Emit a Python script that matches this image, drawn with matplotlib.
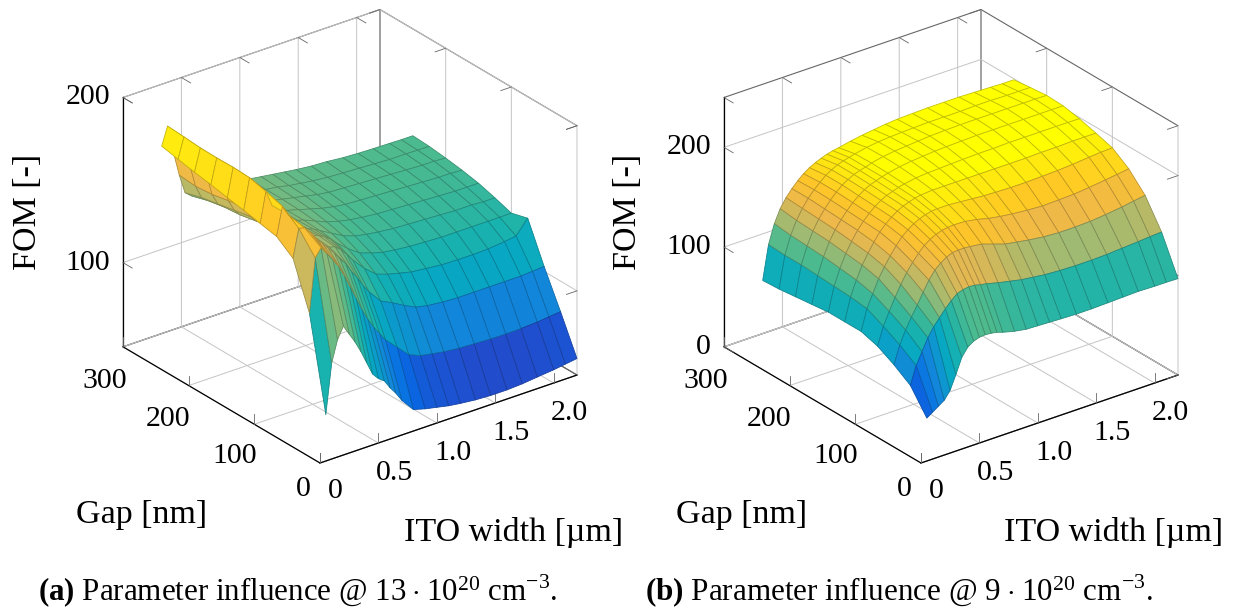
import numpy as np
import matplotlib
matplotlib.use('Agg')
import matplotlib.pyplot as plt
from matplotlib.colors import LinearSegmentedColormap
from mpl_toolkits.mplot3d import proj3d

plt.rcParams['font.family'] = ['Liberation Serif', 'DejaVu Serif']
plt.rcParams['mathtext.fontset'] = 'custom'
plt.rcParams['mathtext.rm'] = 'Liberation Serif'
plt.rcParams['mathtext.bf'] = 'Liberation Serif:bold'

W, H = 1239, 610

# ejes
ito_width = [0.05, 0.1, 0.15, 0.2, 0.25, 0.3, 0.35, 0.4, 0.45, 0.5, 0.55, 0.6, 0.65, 0.7,
             0.8, 0.9, 1.0, 1.1, 1.2, 1.33, 1.46, 1.6, 1.73, 1.86, 2.0, 2.1, 2.2]
gap = [0, 25, 50, 75, 100, 125, 150, 175, 200, 225, 250]

x_ticks = [0, 0.5, 1.0, 1.5, 2.0]
x_labels = ['0', '0.5', '1.0', '1.5', '2.0']
y_ticks = [0, 100, 200, 300]
y_labels = ['0', '100', '200', '300']
z_ticks_a = [100, 200]
z_ticks_b = [0, 100, 200]

# FOM, una fila por cada gap
fom_a = [
    [77, 107, 120, 127, 121, 115, 108, 100, 92, 88, 85.5, 80, 75.5, 70, 62, 60, 58.5, 57, 56, 55, 54.5, 54.5, 55, 56, 57, 58, 59],
    [132.7, 165, 170, 165, 160, 155, 148, 140, 132, 124, 117, 111, 106, 101, 94, 87, 84, 82.7, 81.5, 80.5, 80, 79.5, 79.4, 79.5, 80, 80.8, 81.5],
    [160, 177, 176, 172, 167, 163, 159, 155, 150, 146, 140, 135, 129, 124, 116, 112.5, 108.5, 105, 103.5, 102.5, 102, 102, 102, 102, 102, 102.5, 103],
    [167.4, 184.4, 178, 170, 165, 160, 156.5, 154, 152, 150, 149, 146, 142, 137.5, 130, 124, 121.5, 119.7, 118, 117, 116, 115.7, 115.7, 116, 117, 118, 126.4],
    [169.4, 187.6, 178, 168, 162, 158, 155, 153, 152, 151, 150, 148, 145.5, 142, 136, 131, 128.5, 126.5, 125.5, 124.5, 124, 123.5, 123.5, 123.5, 123.5, 123.5, 123.6],
    [171.5, 190, 178, 166, 160, 156, 153, 151, 150, 149, 148.5, 147, 145.5, 143.5, 139.5, 135.5, 133, 131.5, 130.5, 129.5, 129, 128.5, 128, 127.5, 127.5, 127, 127],
    [173.3, 190.5, 176, 164, 157, 153, 151, 149, 148.5, 147.5, 147, 146, 145, 144, 141, 138, 136, 134.5, 133.5, 132.5, 132, 131.5, 131, 130.5, 130, 130, 130],
    [175.3, 190.3, 175, 162, 155, 151, 149.5, 148, 147.5, 147, 146.5, 145.5, 145, 144, 142, 140, 138, 136.5, 135.5, 135, 134.5, 134, 133.5, 133, 132.5, 132.5, 132],
    [177, 190.5, 174, 160, 153, 150, 148, 147, 146.5, 146, 145.5, 145, 144.5, 144, 142.5, 141, 139.5, 138, 137, 136.5, 136, 135.5, 135, 134.5, 134, 134, 133.5],
    [179, 191.3, 173, 159, 151, 148, 146.5, 146, 145.5, 145, 145, 144.5, 144, 143.5, 142.5, 141.5, 140, 139, 138, 137, 136.5, 136, 135.5, 135, 135, 134.8, 134.7],
    [181, 192, 175, 160, 148, 145, 145, 144.5, 144, 144, 143.5, 143.5, 143, 143, 143, 142, 141, 140, 139, 138, 137.5, 136.5, 136, 135.7, 135.5, 135.3, 135.3],
]

fom_b = [
    [43, 47, 51, 55, 63, 77, 92, 100, 104, 106, 106.5, 106, 105, 103, 100, 98, 97.5, 97, 96.5, 96, 96, 96.5, 97, 97.5, 97, 97, 96.7],
    [66, 84, 96, 108, 117, 124, 131, 137, 142, 144, 145, 144.5, 143, 142, 139, 136.5, 134, 132.5, 131, 130, 129.5, 129.5, 130, 131, 132, 133, 133.7],
    [77, 95, 108, 119, 129, 140, 150, 158, 163, 167, 169.5, 170, 170, 169.5, 168, 164, 160, 158, 156, 154, 153, 153, 153.5, 155, 157, 159, 160.7],
    [86, 104, 117, 129, 140, 150, 158, 165, 171, 175, 178, 180, 181, 181.5, 181, 179, 176, 174, 172.5, 171, 170, 170.5, 171, 172.5, 174.5, 176, 177.7],
    [91, 112, 125, 138, 148, 157, 165, 172, 177, 181, 184, 186, 187.5, 188, 188, 187, 186, 185, 184.5, 184, 184, 184.5, 185, 186, 187.5, 188.5, 189],
    [91, 114, 129, 142, 152, 161, 169, 175, 180, 184, 187, 189, 191, 192, 193, 193, 193, 193, 193, 193, 193, 193, 193.5, 193.5, 194, 194, 194],
    [91, 115, 131, 144, 154, 163, 170, 176, 181, 185, 188, 190, 192, 193.5, 195.5, 196.5, 197, 197.5, 198, 198.5, 198.5, 199, 199, 199, 199, 199, 198.7],
    [89, 116, 133, 146, 156, 164, 171, 177, 182, 186, 189, 191, 193, 194.5, 197, 198.5, 199.5, 200.5, 201, 201.5, 202, 202, 202, 202, 202, 202, 202],
    [87, 117, 134, 147, 157, 165, 172, 178, 183, 186.5, 189.5, 191.5, 193, 195, 197.5, 199, 200, 201, 202, 202.5, 203, 203, 203, 203, 203, 203, 202.7],
    [85, 117, 135, 148, 158, 166, 172.5, 178, 183, 186.5, 189.5, 191.5, 193, 194.5, 197, 198.5, 199.5, 200, 200.5, 201, 201, 201, 201.5, 201.5, 201, 201, 201],
    [84, 118, 137, 150, 159, 166, 172, 177, 181, 184, 186.5, 188.5, 190, 191, 193.5, 195.5, 197, 198.5, 199.5, 200, 200.5, 200.5, 200.5, 200, 199.5, 199, 199],
]

# mapa de color tipo parula, tomado de las bandas de la figura
cmap_pos = [0.0, 0.12, 0.20, 0.30, 0.42, 0.52, 0.62, 0.74, 0.83, 0.91, 1.0]
cmap_rgb = [(0.18, 0.22, 0.70), (0.13, 0.30, 0.80), (0.02, 0.42, 0.90), (0.07, 0.53, 0.85),
            (0.03, 0.66, 0.76), (0.10, 0.70, 0.68), (0.30, 0.73, 0.56), (0.62, 0.73, 0.45),
            (0.93, 0.72, 0.30), (1.0, 0.78, 0.15), (1.0, 1.0, 0.0)]
# valor de FOM que corresponde a cada color en cada panel
levels_a = [50, 67, 78, 92, 110, 121, 135, 150, 165, 178, 190]
levels_b = [30, 50, 63, 78, 95, 110, 125, 141, 160, 177, 197]
cmap = LinearSegmentedColormap.from_list('fom', list(zip(cmap_pos, cmap_rgb)))

fig = plt.figure(figsize=(W / 100, H / 100), dpi=100)


def to_view(ax, x, y, z):
    X, Y, _ = proj3d.proj_transform(x, y, z, ax.get_proj())
    return X, Y


def to_screen(ax, x, y, z):
    return ax.transData.transform(to_view(ax, x, y, z))


def tick_label(ax, text, point, offset, ha='center'):
    # etiqueta a una distancia fija en pixeles de su marca
    ax.annotate(text, to_view(ax, *point), xycoords='data', xytext=offset,
                textcoords='offset pixels', fontsize=21.5, ha=ha, va='center',
                annotation_clip=False)


def make_panel(fom, zlim, zticks, levels, corner, x_px):
    ax = fig.add_subplot(projection='3d', proj_type='ortho', computed_zorder=False)
    ax.set_position([0, 0, 700 / W, 700 / H])
    ax.patch.set_alpha(0)
    ax.view_init(elev=26.7, azim=-127.3)
    ax.set_box_aspect((323, 325, 279))
    ax.set_xlim(0, 2.2, view_margin=0)
    ax.set_ylim(0, 300, view_margin=0)
    ax.set_zlim(zlim[0], zlim[1], view_margin=0)

    ax.set_xticks(x_ticks, [''] * len(x_ticks))
    ax.set_yticks(y_ticks, [''] * len(y_ticks))
    ax.set_zticks(zticks, [''] * len(zticks))

    for axis in (ax.xaxis, ax.yaxis, ax.zaxis):
        axis.pane.set_alpha(1)
        axis.pane.set_facecolor('none')
        axis.pane.set_edgecolor('#666666')
        axis.pane.set_linewidth(0.8)
        axis._axinfo['grid'].update(color='#c4c4c4', linewidth=0.7)
        axis._axinfo['tick'].update(inward_factor=0, outward_factor=0)
        axis.line.set_color('black')
        axis.line.set_linewidth(0.9)

    # marcas cortas de pgfplots, en los bordes de la caja
    dz = 0.04 * (zlim[1] - zlim[0])
    tick = dict(color='#666666', lw=0.6, zorder=1)
    for t in x_ticks:
        ax.plot([t, t], [0, 0], [zlim[0], zlim[0] + dz], **tick)
        ax.plot([t, t], [300, 300 - 14], [zlim[1], zlim[1]], **tick)
    for t in y_ticks:
        ax.plot([0, 0], [t, t], [zlim[0], zlim[0] + dz], **tick)
        ax.plot([2.2, 2.2 - 0.09], [t, t], [zlim[1], zlim[1]], **tick)
    for t in zticks:
        ax.plot([0, 0], [300, 300 - 14], [t, t], **tick)
        ax.plot([2.2, 2.2 - 0.09], [0, 0], [t, t], **tick)

    # etiquetas de las marcas
    for t, s in zip(x_ticks, x_labels):
        tick_label(ax, s, (t, 0, zlim[0]), (15, -28) if t == 0 else (16, -30))
    y_offsets = [(-17, -26), (-20, -32), (-21, -33), (-18, -34)]
    for t, s, off in zip(y_ticks, y_labels, y_offsets):
        tick_label(ax, s, (0, t, zlim[0]), off)
    for t in zticks:
        tick_label(ax, str(t), (0, 300, t), (-13, 0), ha='right')

    X, Y = np.meshgrid(ito_width, gap)
    Z = np.array(fom)
    mid = (Z[:-1, :-1] + Z[1:, :-1] + Z[:-1, 1:] + Z[1:, 1:]) / 4
    faces = cmap(np.interp(mid, levels, cmap_pos))
    surf = ax.plot_surface(X, Y, Z, rstride=1, cstride=1, facecolors=faces, shade=False,
                           linewidth=0.55, antialiased=True, zorder=3)
    edges = faces.reshape(-1, 4).copy()
    edges[:, :3] *= 0.75
    surf.set_edgecolor(edges)

    # ajustar el tamano y la posicion de los ejes al recuadro de la figura
    fig.canvas.draw()
    p0 = to_screen(ax, 0, 0, zlim[0])
    p1 = to_screen(ax, 2.2, 0, zlim[0])
    size = 700 * x_px / (p1[0] - p0[0])
    ax.set_position([0, 0, size / W, size / H])
    fig.canvas.draw()
    p0 = to_screen(ax, 0, 0, zlim[0])
    ax.set_position([(corner[0] - p0[0]) / W, (H - corner[1] - p0[1]) / H, size / W, size / H])
    return ax


make_panel(fom_a, (49, 200), z_ticks_a, levels_a, (320, 463), 257)
make_panel(fom_b, (0, 250), z_ticks_b, levels_b, (921, 463), 257)

# textos
label = dict(fontsize=24.5, ha='center', va='center')
for dx in (0, 600):
    fig.text((28 + dx) / W, 1 - 212 / H, 'FOM [-]', rotation=90, **label)
    fig.text((142 + dx) / W, 1 - 515 / H, 'Gap [nm]', **label)
    fig.text((514 + dx) / W, 1 - 533 / H, 'ITO width [µm]', **label)

fig.text(38 / W, 1 - 591 / H, r'$\mathbf{(a)}$ Parameter influence @ $\mathrm{13\cdot10^{20}}$ cm$^{-3}$.',
         fontsize=22.3, ha='left', va='center')
fig.text(645 / W, 1 - 591 / H, r'$\mathbf{(b)}$ Parameter influence @ $\mathrm{9\cdot10^{20}}$ cm$^{-3}$.',
         fontsize=22.4, ha='left', va='center')

fig.savefig('out.png', dpi=100)
